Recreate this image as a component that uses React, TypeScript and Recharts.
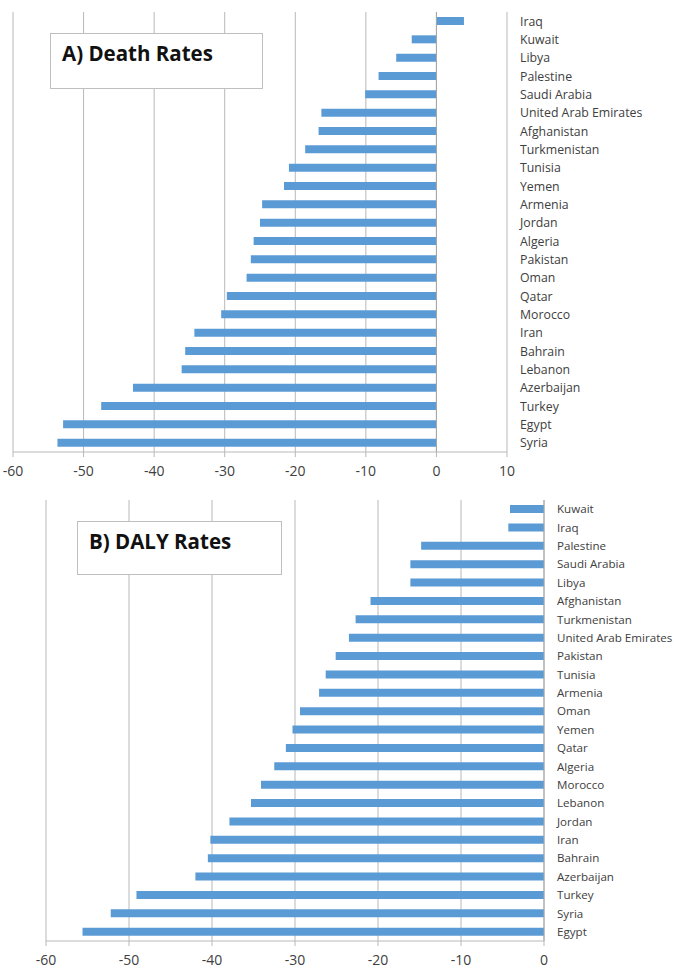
import React from 'react';
import { BarChart, Bar, XAxis, YAxis, CartesianGrid, ReferenceLine } from 'recharts';

// A) Death rates, % change
const deathCountries = [
  'Iraq', 'Kuwait', 'Libya', 'Palestine', 'Saudi Arabia', 'United Arab Emirates',
  'Afghanistan', 'Turkmenistan', 'Tunisia', 'Yemen', 'Armenia', 'Jordan', 'Algeria',
  'Pakistan', 'Oman', 'Qatar', 'Morocco', 'Iran', 'Bahrain', 'Lebanon', 'Azerbaijan',
  'Turkey', 'Egypt', 'Syria',
];
const deathValues = [
  3.9, -3.5, -5.7, -8.2, -10.1, -16.3, -16.7, -18.6, -20.9, -21.6, -24.7, -25.0, -25.9,
  -26.3, -26.9, -29.7, -30.5, -34.3, -35.6, -36.1, -43.0, -47.5, -52.9, -53.7,
];
const deathTicks = [-60, -50, -40, -30, -20, -10, 0, 10];

// B) DALY rates, % change
const dalyCountries = [
  'Kuwait', 'Iraq', 'Palestine', 'Saudi Arabia', 'Libya', 'Afghanistan', 'Turkmenistan',
  'United Arab Emirates', 'Pakistan', 'Tunisia', 'Armenia', 'Oman', 'Yemen', 'Qatar',
  'Algeria', 'Morocco', 'Lebanon', 'Jordan', 'Iran', 'Bahrain', 'Azerbaijan', 'Turkey',
  'Syria', 'Egypt',
];
const dalyValues = [
  -4.1, -4.3, -14.8, -16.1, -16.1, -20.9, -22.7, -23.5, -25.1, -26.3, -27.1, -29.4, -30.3,
  -31.1, -32.5, -34.1, -35.3, -37.9, -40.2, -40.5, -42.0, -49.1, -52.2, -55.6,
];
const dalyTicks = [-60, -50, -40, -30, -20, -10, 0];

const FONT = '"Open Sans", sans-serif';
const BAR = '#5B9BD5';
const GRID = '#b8b8b8';

// plain label, no wrapping
const makeLabel = (size: number) => (props: any) => (
  <text
    x={props.x}
    y={props.y}
    dy="0.355em"
    textAnchor="start"
    fill="#404040"
    fontSize={size}
    fontFamily={FONT}
  >
    {props.payload.value}
  </text>
);

interface PanelProps {
  names: string[];
  values: number[];
  ticks: number[];
  title: string;
  top: number;
  height: number;
  marginTop: number;
  marginLeft: number;
  axisWidth: number;
  xAxisHeight: number;
  labelSize: number;
  box: { left: number; top: number; width: number; height: number };
}

function Panel(p: PanelProps) {
  const data = p.names.map((name, i) => ({ name, value: p.values[i] }));
  return (
    <div style={{ position: 'absolute', left: 0, top: p.top, width: 674, height: p.height }}>
      <BarChart
        width={674}
        height={p.height}
        data={data}
        layout="vertical"
        margin={{ top: p.marginTop, right: 0, bottom: 0, left: p.marginLeft }}
      >
        <CartesianGrid horizontal={false} stroke={GRID} />
        <XAxis
          type="number"
          domain={[p.ticks[0], p.ticks[p.ticks.length - 1]]}
          ticks={p.ticks}
          interval={0}
          height={p.xAxisHeight}
          stroke={GRID}
          tickSize={5}
          tickMargin={9}
          tick={{ fill: '#404040', fontSize: 14, fontFamily: FONT }}
        />
        <YAxis
          type="category"
          dataKey="name"
          orientation="right"
          width={p.axisWidth}
          interval={0}
          axisLine={false}
          tickLine={false}
          tickSize={6}
          tickMargin={7}
          tick={makeLabel(p.labelSize)}
        />
        <ReferenceLine x={0} stroke="#a6a6a6" />
        <Bar dataKey="value" fill={BAR} barSize={8} isAnimationActive={false} />
      </BarChart>
      <div
        style={{
          position: 'absolute',
          left: p.box.left,
          top: p.box.top,
          width: p.box.width,
          height: p.box.height,
          boxSizing: 'border-box',
          border: '1px solid #bfbfbf',
          background: '#fff',
          paddingLeft: 11,
          paddingTop: 9,
          fontFamily: FONT,
          fontWeight: 700,
          fontSize: 20.5,
          lineHeight: '20px',
          color: '#111',
        }}
      >
        {p.title}
      </div>
    </div>
  );
}

export default function App() {
  return (
    <div style={{ position: 'absolute', left: 0, top: 0, width: 674, height: 974, background: '#fff' }}>
      <Panel
        names={deathCountries}
        values={deathValues}
        ticks={deathTicks}
        title="A) Death Rates"
        top={0}
        height={490}
        marginTop={12}
        marginLeft={13}
        axisWidth={167}
        xAxisHeight={38}
        labelSize={12.3}
        box={{ left: 50, top: 33, width: 213, height: 56 }}
      />
      <Panel
        names={dalyCountries}
        values={dalyValues}
        ticks={dalyTicks}
        title="B) DALY Rates"
        top={490}
        height={484}
        marginTop={10}
        marginLeft={46}
        axisWidth={130}
        xAxisHeight={33}
        labelSize={11.6}
        box={{ left: 77, top: 31, width: 205, height: 54 }}
      />
    </div>
  );
}
